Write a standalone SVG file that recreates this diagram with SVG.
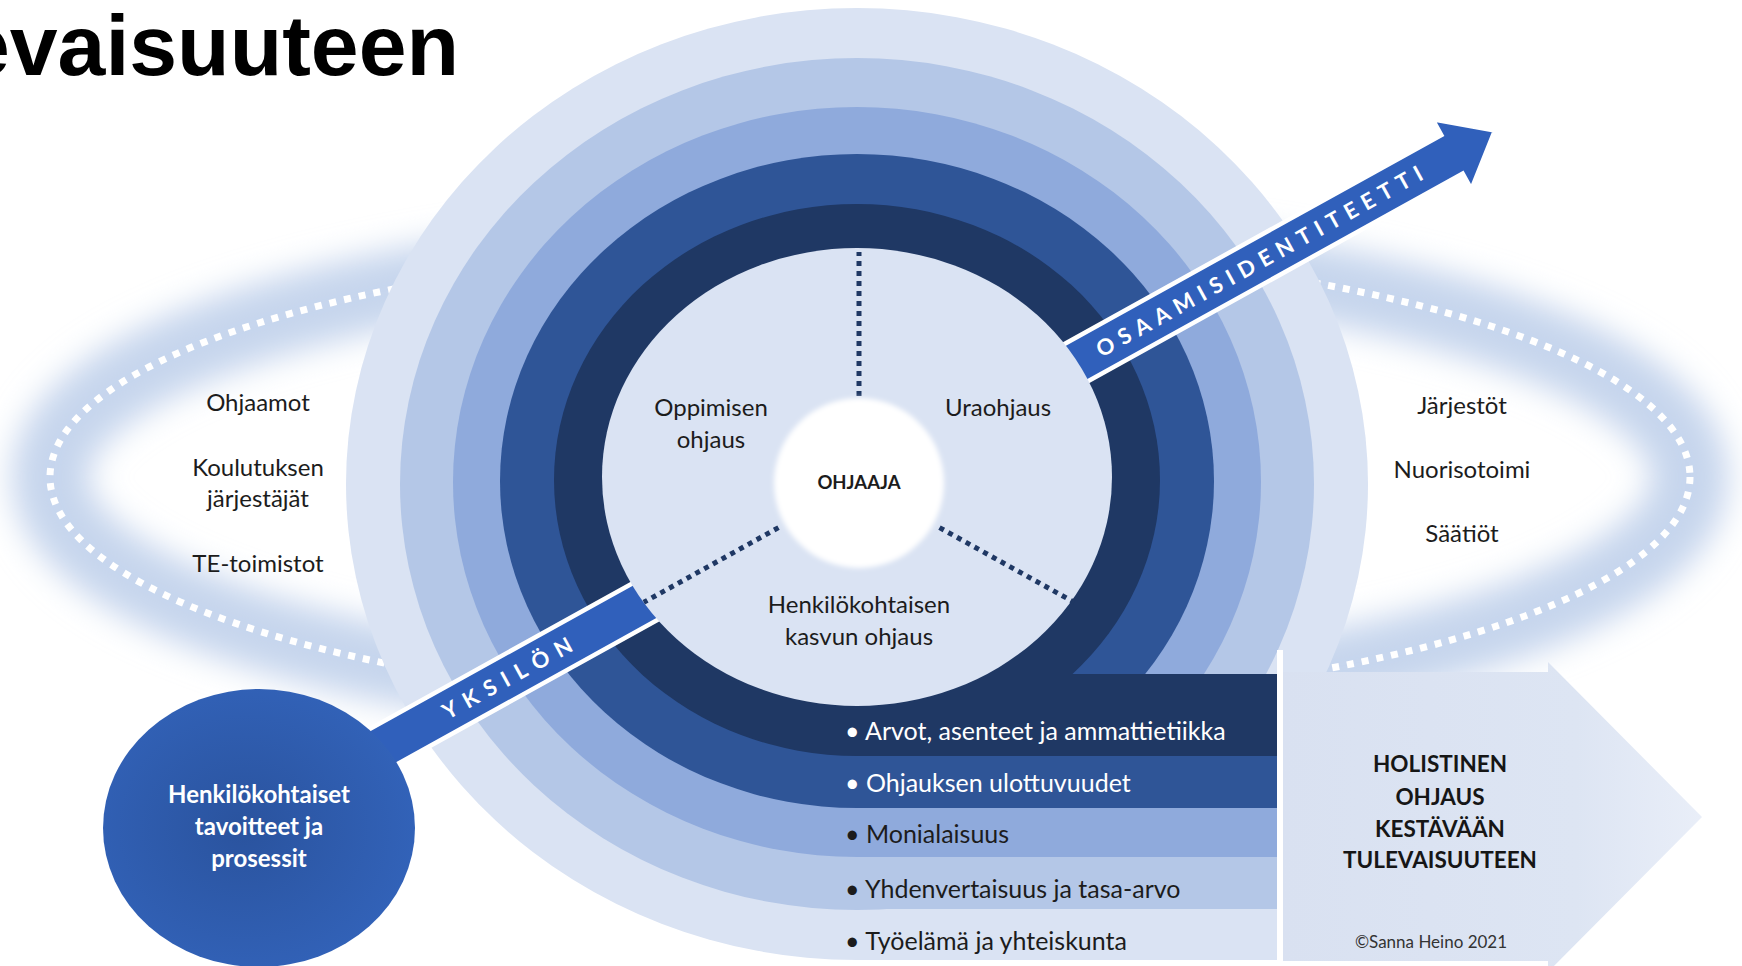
<svg xmlns="http://www.w3.org/2000/svg" width="1742" height="966" viewBox="0 0 1742 966">
<defs>
<style>
.lbl{font-family:Lato,"Open Sans",sans-serif;font-size:24px;fill:#1c1c1c;text-anchor:middle}
.blt{font-family:Lato,"Open Sans",sans-serif;font-size:25px}
.wt{fill:#ffffff}
.dk{fill:#1c1c1c}
.hd{font-family:Lato,"Open Sans",sans-serif;font-weight:700;font-size:22.5px;fill:#161616;text-anchor:middle}
.ball{font-family:Lato,"Open Sans",sans-serif;font-weight:700;font-size:24px;fill:#ffffff;text-anchor:middle}
.bandt{font-family:Lato,"Open Sans",sans-serif;font-weight:700;font-size:22px;fill:#ffffff;text-anchor:middle}
.dot{stroke:#1f3864;stroke-width:5;stroke-dasharray:5 5;fill:none}
</style>
<filter id="glow" filterUnits="userSpaceOnUse" x="-200" y="-200" width="2142" height="1366"><feGaussianBlur stdDeviation="16"/></filter>
<filter id="soft" filterUnits="userSpaceOnUse" x="700" y="330" width="320" height="320"><feGaussianBlur stdDeviation="2.5"/></filter>
<radialGradient id="blueball" cx="0.45" cy="0.5" r="0.55"><stop offset="0" stop-color="#2a539e"/><stop offset="1" stop-color="#3262b8"/></radialGradient>
<linearGradient id="bigarrow" x1="0" x2="1" y1="0" y2="0"><stop offset="0" stop-color="#d9e1f1"/><stop offset="0.7" stop-color="#dde5f3"/><stop offset="1" stop-color="#e9eef8"/></linearGradient>
</defs>
<rect width="1742" height="966" fill="#ffffff"/>
<text x="459" y="75" font-family="'Liberation Sans',Arial,sans-serif" font-weight="700" font-size="86" text-anchor="end" fill="#000">evaisuuteen</text>

<g id="halo">
<ellipse cx="870" cy="477" rx="820" ry="231" fill="none" stroke="#c6d5ed" stroke-width="76" filter="url(#glow)"/>
<ellipse cx="870" cy="477" rx="820" ry="231" fill="none" stroke="#ffffff" stroke-width="7" stroke-dasharray="7 8"/>
</g>

<g id="ring-tyoelama" fill="#dae3f3">
<ellipse cx="857" cy="484" rx="511" ry="476"/>
<rect x="857" y="674" width="420" height="286"/>
</g>
<g id="ring-yhdenvertaisuus" fill="#b4c7e7">
<ellipse cx="857" cy="484" rx="457" ry="426"/>
<rect x="857" y="674" width="420" height="235"/>
</g>
<g id="ring-monialaisuus" fill="#8faadc">
<ellipse cx="857" cy="482" rx="404" ry="375"/>
<rect x="857" y="674" width="420" height="183"/>
</g>
<g id="ring-ulottuvuudet" fill="#2f5597">
<ellipse cx="857" cy="481" rx="357" ry="327"/>
<rect x="857" y="674" width="420" height="134"/>
</g>
<g id="ring-arvot" fill="#1f3864">
<ellipse cx="857" cy="480" rx="303" ry="276"/>
<rect x="857" y="674" width="420" height="82"/>
</g>
<rect x="1277" y="650" width="6" height="316" fill="#ffffff"/>

<g id="holistinen-arrow">
<polygon points="1283,672 1548,672 1548,662 1702,817 1548,972 1548,961 1283,961" fill="url(#bigarrow)"/>
<text class="hd" x="1440" y="772">HOLISTINEN</text>
<text class="hd" x="1440" y="805">OHJAUS</text>
<text class="hd" x="1440" y="837">KESTÄVÄÄN</text>
<text class="hd" x="1440" y="868">TULEVAISUUTEEN</text>
<text x="1431" y="948" font-family="Lato,'Open Sans',sans-serif" font-size="17" fill="#333333" text-anchor="middle">©Sanna Heino 2021</text>
</g>

<g id="identity-axis" transform="translate(859,483) rotate(-29)">
<path d="M-640,-22 H678 V-40 L727,0 L678,40 V22 H-640 Z" fill="#3060bb" stroke="#ffffff" stroke-width="4.5"/>
<text class="bandt" x="461" y="8" letter-spacing="7">OSAAMISIDENTITEETTI</text>
<text class="bandt" x="-398" y="8" letter-spacing="8.5">YKSILÖN</text>
</g>

<g id="inner-disc">
<ellipse cx="857" cy="477" rx="255" ry="229" fill="#dae3f3"/>
</g>

<g id="connectors">
<line class="dot" x1="859" y1="396" x2="859" y2="252"/>
<line class="dot" x1="778.5" y1="527.6" x2="643.8" y2="602.3"/>
<line class="dot" x1="939.5" y1="527.6" x2="1074.2" y2="602.3"/>
</g>

<g id="ohjaaja">
<circle cx="859" cy="483" r="85" fill="#ffffff" filter="url(#soft)"/>
<text x="859" y="489" font-family="Lato,'Open Sans',sans-serif" font-weight="700" font-size="18.5" fill="#1c1c1c" text-anchor="middle">OHJAAJA</text>
</g>

<g id="oppimisen-ohjaus">
<text class="lbl" x="711" y="416">Oppimisen</text>
<text class="lbl" x="711" y="448">ohjaus</text>
</g>
<g id="uraohjaus"><text class="lbl" x="998" y="416">Uraohjaus</text></g>
<g id="kasvun-ohjaus">
<text class="lbl" x="859" y="613">Henkilökohtaisen</text>
<text class="lbl" x="859" y="645">kasvun ohjaus</text>
</g>

<g id="bullets">
<text class="blt wt" x="845" y="740">• Arvot, asenteet ja ammattietiikka</text>
<text class="blt wt" x="845" y="792">• Ohjauksen ulottuvuudet</text>
<text class="blt dk" x="845" y="843">• Monialaisuus</text>
<text class="blt dk" x="845" y="898">• Yhdenvertaisuus ja tasa-arvo</text>
<text class="blt dk" x="845" y="950">• Työelämä ja yhteiskunta</text>
</g>

<g id="left-actors">
<text class="lbl" x="258" y="411">Ohjaamot</text>
<text class="lbl" x="258" y="476">Koulutuksen</text>
<text class="lbl" x="258" y="507">järjestäjät</text>
<text class="lbl" x="258" y="572">TE-toimistot</text>
</g>
<g id="right-actors">
<text class="lbl" x="1462" y="414">Järjestöt</text>
<text class="lbl" x="1462" y="478">Nuorisotoimi</text>
<text class="lbl" x="1462" y="542">Säätiöt</text>
</g>

<g id="henkilokohtaiset">
<ellipse cx="259" cy="828" rx="156" ry="139" fill="url(#blueball)"/>
<text class="ball" x="259" y="803">Henkilökohtaiset</text>
<text class="ball" x="259" y="835">tavoitteet ja</text>
<text class="ball" x="259" y="867">prosessit</text>
</g>
</svg>
